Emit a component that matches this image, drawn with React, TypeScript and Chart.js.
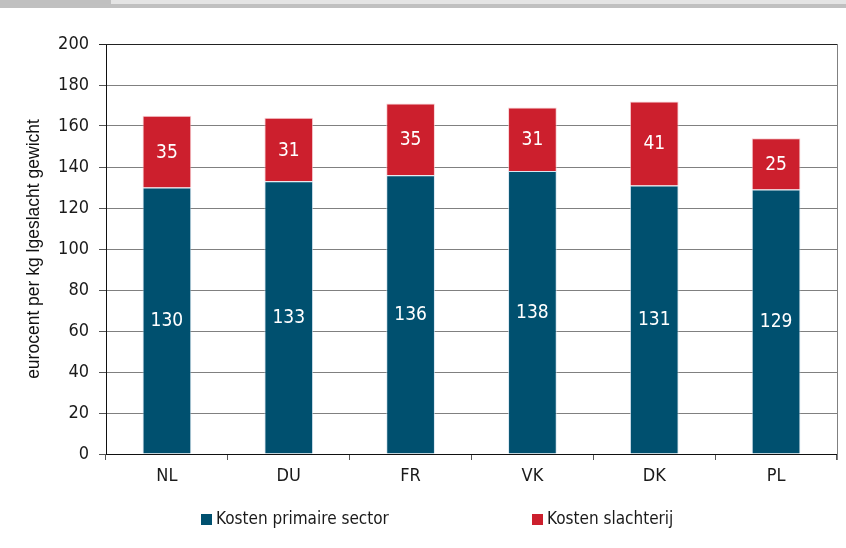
import React, { useEffect, useRef } from "react";
import { Chart, registerables } from "chart.js";

Chart.register(...registerables);

const categories = ["NL", "DU", "FR", "VK", "DK", "PL"];
const primaireSector = [130, 133, 136, 138, 131, 129];
const slachterij = [35, 31, 35, 31, 41, 25];
const yTicks = [0, 20, 40, 60, 80, 100, 120, 140, 160, 180, 200];
const seriesNames = ["Kosten primaire sector", "Kosten slachterij"];
const yTitle = "eurocent per kg lgeslacht gewicht";

const BLUE = "#00506f";
const RED = "#cc1f2d";
const FONT = "'DejaVu Sans Condensed', 'Liberation Sans Narrow', 'Roboto', sans-serif";

const valueLabels = {
  id: "valueLabels",
  afterDatasetsDraw(chart: any) {
    const ctx = chart.ctx;
    ctx.save();
    ctx.fillStyle = "#ffffff";
    ctx.font = `19px ${FONT}`;
    ctx.textAlign = "center";
    ctx.textBaseline = "middle";
    chart.data.datasets.forEach((ds: any, di: number) => {
      const meta = chart.getDatasetMeta(di);
      meta.data.forEach((el: any, i: number) => {
        const y = (el.y + el.base) / 2;
        ctx.fillText(String(ds.data[i]), el.x, y + 1);
      });
    });
    ctx.restore();
  },
};

const frame = {
  id: "frame",
  afterDraw(chart: any) {
    const { ctx, chartArea } = chart;
    ctx.save();
    ctx.lineWidth = 1;
    ctx.strokeStyle = "#808080";
    ctx.beginPath();
    ctx.moveTo(chartArea.right + 0.5, chartArea.top);
    ctx.lineTo(chartArea.right + 0.5, chartArea.bottom + 6);
    ctx.stroke();
    ctx.strokeStyle = "#222";
    ctx.beginPath();
    ctx.moveTo(chartArea.left - 7, chartArea.top + 0.5);
    ctx.lineTo(chartArea.right, chartArea.top + 0.5);
    ctx.stroke();
    ctx.restore();
  },
};

const customLegend = {
  id: "customLegend",
  afterDraw(chart: any) {
    const { ctx, width } = chart;
    const starts = [0.2376, 0.6288];
    ctx.save();
    ctx.font = `17px ${FONT}`;
    ctx.textBaseline = "middle";
    ctx.textAlign = "left";
    chart.data.datasets.forEach((ds: any, i: number) => {
      const x = Math.round(width * starts[i]);
      const y = 519;
      ctx.fillStyle = ds.backgroundColor;
      ctx.fillRect(x, y - 5, 11, 11);
      ctx.fillStyle = "#1a1a1a";
      ctx.fillText(ds.label, x + 15, y + 1);
    });
    ctx.restore();
  },
};

export default function App() {
  const ref = useRef<HTMLCanvasElement>(null);
  useEffect(() => {
    if (!ref.current) return;
    const chart = new Chart(ref.current, {
      type: "bar",
      data: {
        labels: categories,
        datasets: [
          {
            label: seriesNames[0],
            data: primaireSector,
            backgroundColor: BLUE,
            borderColor: "rgba(200,220,235,0.7)",
            borderWidth: 1,
            categoryPercentage: 1,
            barPercentage: 0.4,
          },
          {
            label: seriesNames[1],
            data: slachterij,
            backgroundColor: RED,
            borderColor: "rgba(245,190,195,0.7)",
            borderWidth: 1,
            categoryPercentage: 1,
            barPercentage: 0.4,
          },
        ],
      },
      plugins: [valueLabels, frame, customLegend],
      options: {
        animation: false,
        responsive: false,
        maintainAspectRatio: false,
        layout: { padding: { top: 44, left: 0, right: 9, bottom: 0 } },
        plugins: {
          legend: { display: false },
          tooltip: { enabled: false },
          title: { display: false },
        },
        scales: {
          x: {
            stacked: true,
            afterFit(scale: any) {
              scale.height = 94;
            },
            grid: {
              display: true,
              drawOnChartArea: false,
              offset: true,
              tickLength: 6,
              tickColor: "#555",
            },
            border: { display: true, color: "#111", width: 1 },
            ticks: {
              color: "#1a1a1a",
              padding: 6,
              font: { family: FONT, size: 18 },
            },
          },
          y: {
            stacked: true,
            min: 0,
            max: 200,
            afterFit(scale: any) {
              scale.width = 106;
            },
            afterBuildTicks(scale: any) {
              scale.ticks = yTicks.map((v) => ({ value: v }));
            },
            grid: {
              color: "#808080",
              tickColor: "#555",
              tickLength: 7,
            },
            border: { display: true, color: "#111", width: 1 },
            ticks: {
              color: "#1a1a1a",
              padding: 10,
              font: { family: FONT, size: 18 },
            },
            title: {
              display: true,
              text: yTitle,
              color: "#111",
              padding: { top: 24, bottom: 0 },
              font: { family: "'Liberation Sans', Arial, sans-serif", size: 17.5 },
            },
          },
        },
      },
    } as any);
    return () => chart.destroy();
  }, []);
  return (
    <div style={{ position: "absolute", left: 0, top: 0, width: 846, height: 548, background: "#fff", overflow: "hidden" }}>
      <canvas ref={ref} width={846} height={548} style={{ position: "absolute", left: 0, top: 0, width: 846, height: 548 }} />
      <div style={{ position: "absolute", left: 0, top: 0, width: 846, height: 8, background: "#c0c0c0" }} />
      <div style={{ position: "absolute", left: 111, top: 0, width: 735, height: 4, background: "#e4e4e4" }} />
    </div>
  );
}
